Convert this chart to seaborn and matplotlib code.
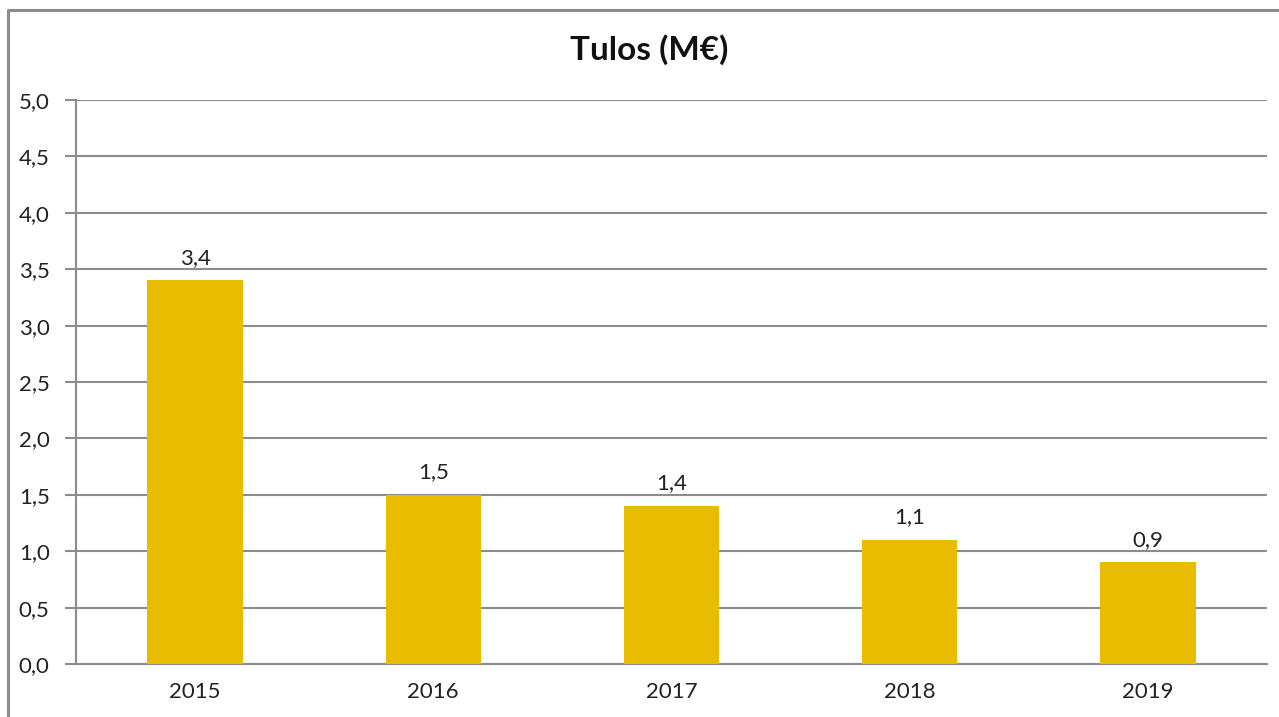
import matplotlib
matplotlib.use("Agg")
import matplotlib.pyplot as plt
import seaborn as sns
import pandas as pd
from matplotlib.lines import Line2D
from matplotlib.ticker import FuncFormatter, MultipleLocator

# Datos
vuodet = ["2015", "2016", "2017", "2018", "2019"]
tulos = [3.4, 1.5, 1.4, 1.1, 0.9]

sns.set_style("white")
plt.rcParams["font.family"] = ["Lato", "DejaVu Sans"]

df = pd.DataFrame({"vuosi": vuodet, "tulos": tulos})

fig = plt.figure(figsize=(12.79, 7.17), dpi=100)
ax = fig.add_axes([76 / 1279, 53 / 717, (1267 - 76) / 1279, (664 - 100) / 717])

sns.barplot(data=df, x="vuosi", y="tulos", color="#E8BC00", width=0.4,
            saturation=1, linewidth=0, ax=ax, zorder=3)

grid_col = "#8C8C8C"
ax.set_ylim(0, 5)
ax.set_xlim(-0.5, len(vuodet) - 0.5)
ax.yaxis.set_major_locator(MultipleLocator(0.5))
ax.yaxis.set_major_formatter(FuncFormatter(lambda v, p: f"{v:.1f}".replace(".", ",")))
ax.grid(axis="y", color=grid_col, linewidth=1.5, zorder=0)
ax.set_axisbelow(True)

for s in ["top", "right"]:
    ax.spines[s].set_visible(False)
for s in ["left", "bottom"]:
    ax.spines[s].set_color(grid_col)
    ax.spines[s].set_linewidth(1.5)

# ticks on category boundaries
ax.set_xticks([i - 0.5 for i in range(len(vuodet) + 1)], minor=True)
ax.tick_params(axis="x", which="major", length=0, pad=13, labelsize=16, labelcolor="#222222")
ax.tick_params(axis="x", which="minor", length=7, width=1.5, color=grid_col, direction="out")
ax.tick_params(axis="y", length=8, width=1.5, color=grid_col, pad=11, labelsize=16,
               labelcolor="#222222", left=True)
ax.set_xlabel("")
ax.set_ylabel("")

for i, v in enumerate(tulos):
    ax.annotate(f"{v:.1f}".replace(".", ","), (i, v), xytext=(0, 9),
                textcoords="offset points", ha="center", va="bottom",
                fontsize=16, color="#222222")

fig.suptitle("Tulos (M€)", x=649 / 1279, y=1 - 50 / 717, va="center",
             fontsize=24, fontweight="bold", color="#111111")

# chart frame (top and left)
fig.add_artist(Line2D([8 / 1279, 8 / 1279], [0, 1 - 10 / 717], color="#8C8C8C",
                      linewidth=2.2, transform=fig.transFigure))
fig.add_artist(Line2D([8 / 1279, 1], [1 - 10 / 717, 1 - 10 / 717], color="#8C8C8C",
                      linewidth=2.2, transform=fig.transFigure))

fig.savefig("out.png", dpi=100)
